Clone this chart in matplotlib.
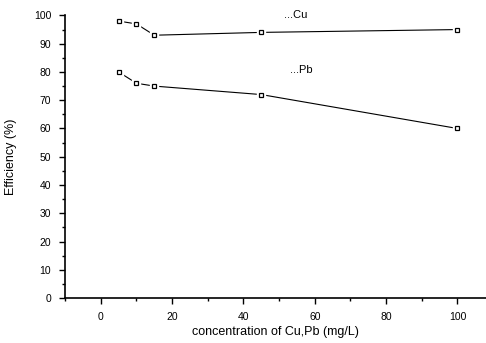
import matplotlib
matplotlib.use("Agg")
import matplotlib.pyplot as plt
from matplotlib.ticker import MultipleLocator

# Дані
conc = [5, 10, 15, 45, 100]
eff_cu = [98, 97, 93, 94, 95]
eff_pb = [80, 76, 75, 72, 60]

plt.rcParams['font.family'] = ['Liberation Sans', 'DejaVu Sans']

fig = plt.figure(figsize=(4.86, 3.43), dpi=100)
ax = fig.add_axes([0.134, 0.131, 0.866, 0.824])

for y in (eff_cu, eff_pb):
    ax.plot(conc, y, color='black', linewidth=0.8)
    # white halo so the line stops short of the marker
    ax.plot(conc, y, linestyle='none', marker='s', markersize=5.5,
            markerfacecolor='white', markeredgecolor='white')
    ax.plot(conc, y, linestyle='none', marker='s', markersize=3.5,
            markerfacecolor='white', markeredgecolor='black', markeredgewidth=0.9)

ax.text(51.5, 98.5, "...Cu", fontsize=8, ha='left', va='bottom')
ax.text(53, 79, "...Pb", fontsize=8, ha='left', va='bottom')

ax.set_xlim(-10, 108)
ax.set_ylim(0, 100)
ax.xaxis.set_major_locator(MultipleLocator(20))
ax.xaxis.set_minor_locator(MultipleLocator(10))
ax.yaxis.set_major_locator(MultipleLocator(10))
ax.yaxis.set_minor_locator(MultipleLocator(5))
ax.tick_params(which='major', direction='out', length=4, width=1, labelsize=7.5, pad=6)
ax.tick_params(which='minor', direction='out', length=2, width=1)

ax.spines['top'].set_visible(False)
ax.spines['right'].set_visible(False)
ax.spines['left'].set_linewidth(1.2)
ax.spines['bottom'].set_linewidth(1.2)

ax.set_xlabel("concentration of Cu,Pb (mg/L)", fontsize=9)
ax.xaxis.set_label_coords(0.5, -0.1)
ax.set_ylabel("Efficiency (%)", fontsize=9, labelpad=12)

plt.savefig("out.png", dpi=100)
